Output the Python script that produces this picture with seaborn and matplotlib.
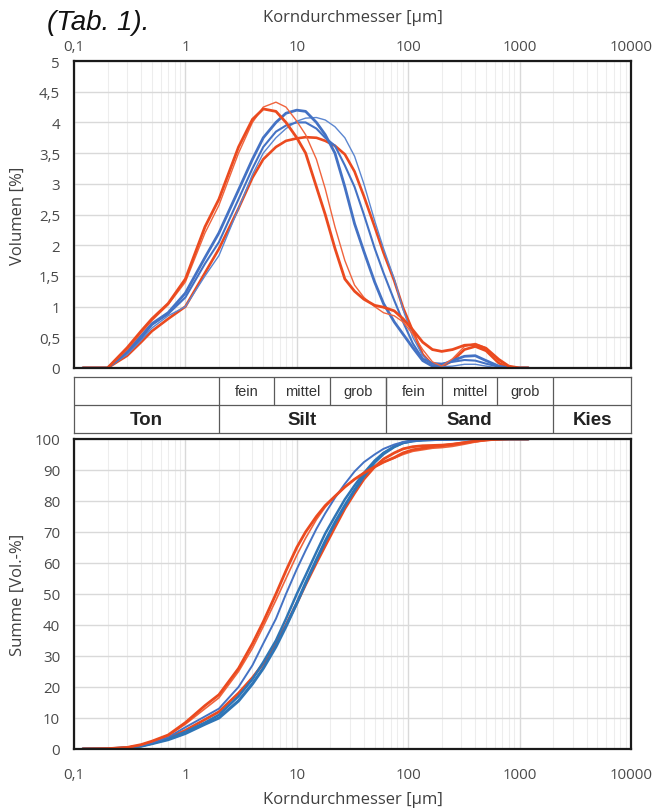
import numpy as np
import pandas as pd
import seaborn as sns
import matplotlib.pyplot as plt
from matplotlib.ticker import FixedLocator, FixedFormatter

# Korndurchmesser (µm) - gemeinsame Stützstellen
grain = [0.12, 0.2, 0.3, 0.4, 0.5, 0.7, 1, 1.5, 2, 3, 4, 5, 6.5, 8, 10, 12, 15, 18, 22, 27, 33,
         40, 50, 60, 75, 90, 110, 135, 165, 200, 250, 320, 400, 500, 650, 800, 1000, 1200]

# Volumen [%] (Häufigkeitskurven)
vol_red_a = [0, 0, 0.33, 0.6, 0.8, 1.05, 1.45, 2.3, 2.75, 3.6, 4.05, 4.22, 4.18, 4.0, 3.75, 3.5, 2.95, 2.5, 1.95,
             1.45, 1.25, 1.12, 1.02, 0.99, 0.93, 0.8, 0.62, 0.42, 0.3, 0.27, 0.3, 0.37, 0.38, 0.32, 0.14, 0.03, 0, 0]
vol_red_b = [0, 0, 0.3, 0.57, 0.77, 1.03, 1.4, 2.2, 2.65, 3.5, 4.0, 4.25, 4.33, 4.25, 4.02, 3.8, 3.4, 2.92, 2.3,
             1.75, 1.35, 1.15, 1.0, 0.9, 0.85, 0.75, 0.55, 0.3, 0.1, 0.03, 0.15, 0.35, 0.4, 0.33, 0.12, 0.02, 0, 0]
vol_red_c = [0, 0, 0.2, 0.42, 0.6, 0.8, 1.0, 1.55, 1.94, 2.6, 3.1, 3.4, 3.6, 3.7, 3.74, 3.76, 3.75, 3.7, 3.62,
             3.48, 3.2, 2.8, 2.3, 1.88, 1.42, 0.98, 0.6, 0.22, 0.05, 0.02, 0.12, 0.3, 0.35, 0.28, 0.08, 0, 0, 0]
vol_blue_d = [0, 0, 0.28, 0.52, 0.72, 0.9, 1.22, 1.8, 2.2, 2.9, 3.4, 3.75, 4.0, 4.15, 4.2, 4.18, 4.0, 3.8, 3.5,
              2.95, 2.35, 1.9, 1.4, 1.05, 0.75, 0.55, 0.33, 0.12, 0.03, 0.05, 0.12, 0.19, 0.2, 0.12, 0.03, 0, 0, 0]
vol_blue_e = [0, 0, 0.25, 0.48, 0.7, 0.88, 1.15, 1.7, 2.05, 2.75, 3.25, 3.6, 3.85, 3.95, 4.0, 4.0, 3.9, 3.75, 3.62,
              3.3, 2.95, 2.5, 1.95, 1.55, 1.1, 0.75, 0.4, 0.15, 0.08, 0.07, 0.1, 0.13, 0.12, 0.07, 0.02, 0, 0, 0]
vol_blue_f = [0, 0, 0.22, 0.45, 0.65, 0.85, 1.0, 1.5, 1.83, 2.6, 3.15, 3.5, 3.75, 3.9, 4.02, 4.07, 4.08, 4.04, 3.93,
              3.75, 3.45, 3.0, 2.4, 1.95, 1.45, 0.95, 0.5, 0.2, 0.05, 0.02, 0.03, 0.06, 0.06, 0.03, 0, 0, 0, 0]

# Summe [Vol.-%] (Summenkurven)
sum_red_a = [0, 0.1, 0.5, 1.4, 2.5, 4.5, 8.5, 14, 17.5, 26, 34, 41, 50, 57.5, 65, 70, 75, 78.5, 81.5,
             84.5, 87, 89, 91, 92.5, 94, 95.5, 96.5, 97, 97.5, 97.8, 98.2, 98.8, 99.3, 99.7, 99.9, 100, 100, 100]
sum_red_b = [0, 0.1, 0.5, 1.3, 2.4, 4.3, 8.0, 13, 16.5, 25, 32.5, 39.5, 48, 55, 62.5, 68, 74, 78, 81.5,
             84.5, 87, 89, 91, 92.5, 93.8, 95, 96, 96.5, 97, 97.2, 97.6, 98.3, 99, 99.5, 99.9, 100, 100, 100]
sum_red_c = [0, 0.05, 0.4, 1.0, 1.8, 3.5, 6.0, 9.5, 12, 18, 23, 27.5, 34, 40, 47, 53, 60, 65.5, 71.5,
             77.5, 82.5, 87, 91, 93.5, 95.5, 96.8, 97.5, 97.8, 97.9, 98, 98.3, 98.8, 99.3, 99.7, 99.9, 100, 100, 100]
sum_blue_d = [0, 0.05, 0.45, 1.1, 2.0, 3.8, 7.0, 10.5, 13, 20, 27, 34, 42, 50, 58, 64, 71, 76, 81,
              85.5, 89.5, 92.5, 95, 96.8, 98.2, 99, 99.4, 99.6, 99.7, 99.7, 99.8, 99.9, 100, 100, 100, 100, 100, 100]
sum_blue_e = [0, 0.05, 0.4, 1.0, 1.8, 3.3, 5.5, 8.5, 11, 17, 22.5, 28, 35, 42, 50, 56, 63.5, 69.5, 75,
              80.5, 85, 89, 93, 95.5, 97.5, 98.7, 99.3, 99.6, 99.7, 99.8, 99.9, 100, 100, 100, 100, 100, 100, 100]
sum_blue_f = [0, 0.05, 0.35, 0.9, 1.7, 3.0, 5.0, 8.0, 10, 15.5, 21, 26, 33, 39.5, 47, 53.5, 61, 67, 73,
              78.5, 83.5, 88, 92.5, 95.2, 97.5, 98.8, 99.4, 99.7, 99.8, 99.9, 100, 100, 100, 100, 100, 100, 100, 100]

x_ticks = [0.1, 1, 10, 100, 1000, 10000]
x_labels = ['0,1', '1', '10', '100', '1000', '10000']
vol_ticks = [0, 0.5, 1, 1.5, 2, 2.5, 3, 3.5, 4, 4.5, 5]
vol_labels = ['0', '0,5', '1', '1,5', '2', '2,5', '3', '3,5', '4', '4,5', '5']
sum_ticks = [0, 10, 20, 30, 40, 50, 60, 70, 80, 90, 100]
sum_labels = ['0', '10', '20', '30', '40', '50', '60', '70', '80', '90', '100']

# Kornklassen (Grenzen in µm)
main_bounds = [0.1, 2, 63, 2000, 10000]
main_names = ['Ton', 'Silt', 'Sand', 'Kies']
sub_bounds = [2, 6.3, 20, 63, 200, 630, 2000]
sub_names = ['fein', 'mittel', 'grob', 'fein', 'mittel', 'grob']

RED = '#EB4A1F'
RED_THIN = '#F0643D'
BLUE = '#4472C4'
BLUE_DARK = '#2E75B6'
BLUE_THIN = '#5B86D0'

sns.set_style('white')
plt.rcParams['font.family'] = ['Open Sans', 'DejaVu Sans']
plt.rcParams['lines.solid_joinstyle'] = 'round'

fig = plt.figure(figsize=(6.53, 8.12), dpi=100)
ax_top = fig.add_axes([0.1133, 0.5456, 0.853, 0.378])
ax_tab = fig.add_axes([0.1133, 0.4655, 0.853, 0.069])
ax_bot = fig.add_axes([0.1133, 0.0764, 0.853, 0.3818])


def style_axes(ax, yticks, ylabels, ymax):
    ax.set_xscale('log')
    ax.set_xlim(0.1, 10000)
    ax.set_ylim(0, ymax)
    ax.xaxis.set_major_locator(FixedLocator(x_ticks))
    ax.xaxis.set_major_formatter(FixedFormatter(x_labels))
    ax.yaxis.set_major_locator(FixedLocator(yticks))
    ax.yaxis.set_major_formatter(FixedFormatter(ylabels))
    ax.set_axisbelow(True)
    ax.grid(which='major', color='#D9D9D9', lw=1.0)
    ax.grid(which='minor', axis='x', color='#EDEDED', lw=0.8)
    ax.tick_params(which='both', length=0, labelsize=10.8, labelcolor='#4a4a4a')
    ax.tick_params(axis='y', pad=10)
    for s in ax.spines.values():
        s.set_visible(True)
        s.set_color('#1a1a1a')
        s.set_linewidth(1.6)


# --- Häufigkeit
style_axes(ax_top, vol_ticks, vol_labels, 5)
vol_lines = [
    (vol_red_c, RED, 1.9), (vol_blue_f, BLUE_THIN, 1.0), (vol_blue_e, BLUE, 1.5),
    (vol_blue_d, BLUE, 2.0), (vol_red_b, RED_THIN, 1.0), (vol_red_a, RED, 2.0),
]
for vals, col, lw in vol_lines:
    sns.lineplot(x=grain, y=vals, ax=ax_top, color=col, lw=lw)
ax_top.xaxis.tick_top()
ax_top.tick_params(axis='x', pad=5)
ax_top.xaxis.set_label_position('top')
ax_top.set_xlabel('Korndurchmesser [µm]', fontsize=12, color='#404040')
ax_top.xaxis.set_label_coords(0.5, 1.143)
ax_top.xaxis.label.set_va('center')
ax_top.set_ylabel('Volumen [%]', fontsize=12, color='#404040')
ax_top.yaxis.set_label_coords(-0.1, 0.5)
ax_top.yaxis.label.set_va('center')

# --- Tabelle der Kornklassen
ax_tab.set_xscale('log')
ax_tab.set_xlim(0.1, 10000)
ax_tab.set_ylim(0, 2)
ax_tab.set_xticks([])
ax_tab.set_yticks([])
ax_tab.minorticks_off()
for s in ax_tab.spines.values():
    s.set_visible(True)
    s.set_color('#5a5a5a')
    s.set_linewidth(0.9)
ax_tab.axhline(1, color='#5a5a5a', lw=0.9)
for b in main_bounds[1:-1]:
    ax_tab.axvline(b, color='#5a5a5a', lw=0.9)
for b in sub_bounds[1:-1]:
    ax_tab.axvline(b, ymin=0.5, ymax=1, color='#5a5a5a', lw=0.9)
for lo, hi, name in zip(main_bounds[:-1], main_bounds[1:], main_names):
    ax_tab.text(np.sqrt(lo * hi), 0.5, name, ha='center', va='center', fontsize=13.5,
                fontweight='bold', family='Liberation Sans', color='#222222')
for lo, hi, name in zip(sub_bounds[:-1], sub_bounds[1:], sub_names):
    ax_tab.text(np.sqrt(lo * hi), 1.5, name, ha='center', va='center', fontsize=10.5,
                family='Liberation Sans', color='#333333')

# --- Summenkurven
style_axes(ax_bot, sum_ticks, sum_labels, 100)
sum_lines = [
    (sum_red_c, RED, 2.0), (sum_blue_f, BLUE_DARK, 2.2), (sum_blue_e, BLUE_DARK, 1.8),
    (sum_blue_d, BLUE, 1.4), (sum_red_b, RED_THIN, 1.2), (sum_red_a, RED, 2.0),
]
for vals, col, lw in sum_lines:
    sns.lineplot(x=grain, y=vals, ax=ax_bot, color=col, lw=lw)
ax_bot.tick_params(axis='x', pad=13)
ax_bot.set_xlabel('Korndurchmesser [µm]', fontsize=12, color='#404040')
ax_bot.xaxis.set_label_coords(0.5, -0.161)
ax_bot.xaxis.label.set_va('center')
ax_bot.set_ylabel('Summe [Vol.-%]', fontsize=12, color='#404040')
ax_bot.yaxis.set_label_coords(-0.1, 0.5)
ax_bot.yaxis.label.set_va('center')

fig.text(0.072, 0.963, '(Tab. 1).', fontsize=20, style='italic', family='Liberation Sans',
         color='#111111', ha='left', va='baseline')

fig.savefig('out.png', dpi=100)
